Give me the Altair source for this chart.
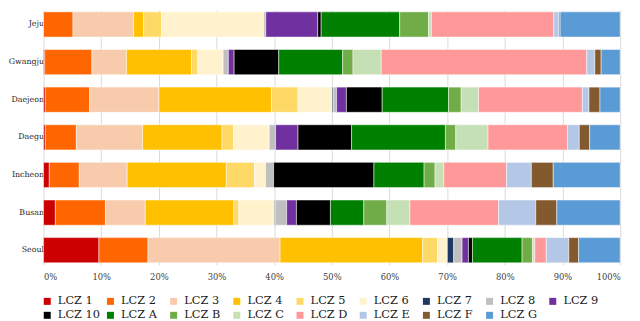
import altair as alt
import pandas as pd

cities = ["Jeju", "Gwangju", "Daejeon", "Daegu", "Incheon", "Busan", "Seoul"]
lczs = ["LCZ 1", "LCZ 2", "LCZ 3", "LCZ 4", "LCZ 5", "LCZ 6", "LCZ 7", "LCZ 8", "LCZ 9",
        "LCZ 10", "LCZ A", "LCZ B", "LCZ C", "LCZ D", "LCZ E", "LCZ F", "LCZ G"]
colors = ["#CC0000", "#FF6600", "#F8CBAD", "#FFC000", "#FFD966", "#FFF2CC", "#1F3864",
          "#BFBFBF", "#7030A0", "#000000", "#008000", "#70AD47", "#C5E0B4", "#FF9999",
          "#B4C7E7", "#835A2D", "#5B9BD5"]

jeju    = [0.0, 5.1, 10.5, 1.75, 3.1, 17.7, 0.0, 0.35, 9.0, 0.6, 13.6, 5.0, 0.5, 21.2, 0.9, 0.2, 10.4]
gwangju = [0.2, 8.2, 6.0, 11.3, 1.1, 4.4, 0.0, 0.9, 1.0, 7.75, 11.1, 1.8, 4.9, 35.7, 1.4, 1.1, 3.3]
daejeon = [0.3, 7.7, 12.0, 19.5, 4.6, 5.9, 0.2, 0.6, 1.7, 6.2, 11.5, 2.2, 3.0, 18.0, 1.15, 1.9, 3.5]
daegu   = [0.3, 5.4, 11.5, 13.8, 2.0, 6.2, 0.0, 1.1, 3.9, 9.3, 16.3, 1.8, 5.6, 13.8, 2.05, 1.8, 5.3]
incheon = [1.0, 5.2, 8.3, 17.2, 4.9, 1.9, 0.0, 1.4, 0.0, 17.4, 8.7, 1.9, 1.5, 10.9, 4.3, 3.8, 11.6]
busan   = [2.05, 8.7, 6.9, 15.4, 0.85, 6.2, 0.2, 1.9, 1.7, 5.9, 5.8, 4.0, 4.0, 15.4, 6.45, 3.65, 11.0]
seoul   = [9.6, 8.5, 22.9, 24.7, 2.6, 1.7, 1.1, 1.45, 1.1, 0.7, 8.6, 1.8, 0.4, 2.0, 3.9, 1.7, 7.2]

series = [jeju, gwangju, daejeon, daegu, incheon, busan, seoul]
rows = []
for city, vals in zip(cities, series):
    for i, (lcz, v) in enumerate(zip(lczs, vals)):
        rows.append({"city": city, "lcz": lcz, "idx": i, "value": v})
df = pd.DataFrame(rows)

font = "DejaVu Serif"

chart = alt.Chart(df).mark_bar(stroke="white", strokeWidth=0.5).encode(
    x=alt.X("value:Q", stack="normalize",
            scale=alt.Scale(domain=[0, 1], nice=False),
            axis=alt.Axis(title=None, format=".0%", values=[i / 10 for i in range(11)],
                          grid=True, gridColor="#D9D9D9", gridWidth=1,
                          domain=False, ticks=False, tickSize=0, labelPadding=8,
                          labelFont=font, labelFontSize=8.5, labelColor="#404040")),
    y=alt.Y("city:N", sort=cities,
            scale=alt.Scale(paddingInner=0.33, paddingOuter=0.05),
            axis=alt.Axis(title=None, domain=False, ticks=False, tickSize=0, labelPadding=0,
                          labelFont=font, labelFontSize=8, labelColor="#262626")),
    color=alt.Color("lcz:N", scale=alt.Scale(domain=lczs, range=colors),
                    legend=alt.Legend(title=None, orient="none", legendX=-2, legendY=289,
                                      direction="horizontal",
                                      columns=9, gridAlign="all", columnPadding=4,
                                      rowPadding=1.5, symbolType="square", symbolSize=50,
                                      symbolStrokeWidth=0, labelOffset=5, padding=0,
                                      labelFont=font, labelFontSize=11.5,
                                      labelColor="#1a1a1a")),
    order=alt.Order("idx:Q", sort="ascending"),
).properties(
    width=584, height=258,
    autosize=alt.AutoSizeParams(type="none"),
    padding={"left": 36, "top": 0, "right": 12, "bottom": 55},
).configure(font=font).configure_view(stroke=None)

chart.save("out.html", embed_options={"renderer": "svg", "actions": False})
